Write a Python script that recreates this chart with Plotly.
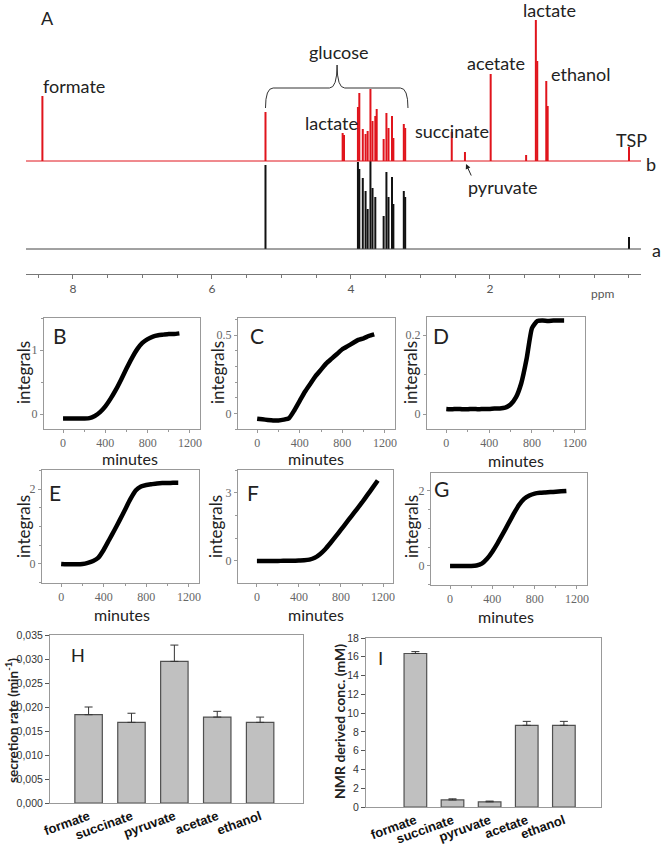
import plotly.graph_objects as go

W, H = 666, 858

# ---------------- Panel A: 1H NMR spectra ----------------
# red trace (b): peak positions (ppm) and heights (arbitrary units)
ppm_b = [8.44, 5.23, 4.12, 4.10, 3.90, 3.88, 3.83, 3.79, 3.76, 3.72, 3.69, 3.65, 3.63,
         3.53, 3.49, 3.46, 3.41, 3.39, 3.24, 3.22, 2.55, 2.36, 1.99, 1.48, 1.34, 1.32,
         1.19, 1.17, 0.00]
height_b = [65, 49, 28, 26, 54, 68, 32, 27, 30, 72, 40, 45, 52, 22, 48, 33, 45, 23, 37, 33,
            29, 9, 87, 6, 141, 100, 80, 55, 14]
# black trace (a)
ppm_a = [5.23, 3.90, 3.88, 3.83, 3.79, 3.76, 3.72, 3.69, 3.65, 3.53, 3.49, 3.46, 3.41,
         3.39, 3.24, 3.22, 0.00]
height_a = [84, 87, 80, 71, 58, 40, 88, 61, 52, 33, 77, 52, 72, 45, 58, 52, 12]
offset_b = 88
ppm_ticks = [8, 6, 4, 2]

spec_labels = ["formate", "glucose", "lactate", "succinate", "acetate", "lactate",
               "ethanol", "TSP", "pyruvate"]
spec_label_ppm = [7.99, 4.17, 4.28, 2.54, 1.91, 1.14, 0.70, -0.04, 1.81]
spec_label_y = [163, 197, 126, 118, 186, 239, 175, 109, 62]

# ---------------- Panels B-G: integrals vs minutes ----------------
minutes = [0, 50, 100, 150, 200, 250, 300, 350, 400, 450, 500, 550, 600, 650, 700, 750,
           800, 850, 900, 950, 1000, 1050, 1100, 1150]
integral_B = [-0.07, -0.07, -0.07, -0.07, -0.07, -0.065, -0.03, 0.03, 0.12, 0.24, 0.38, 0.54,
              0.71, 0.87, 1.01, 1.11, 1.17, 1.21, 1.23, 1.24, 1.25, 1.25, 1.26, None]
integral_C = [-0.034, -0.038, -0.042, -0.045, -0.045, -0.04, -0.03, 0.02, 0.08, 0.14, 0.19, 0.24,
              0.28, 0.32, 0.35, 0.38, 0.41, 0.43, 0.45, 0.47, 0.48, 0.495, 0.505, None]
integral_D = [0.013, 0.012, 0.013, 0.012, 0.012, 0.013, 0.012, 0.013, 0.013, 0.014, 0.014, 0.016,
              0.024, 0.042, 0.078, 0.14, 0.218, 0.236, 0.237, 0.236, 0.237, 0.237, 0.237, None]
integral_E = [0.0, -0.01, -0.01, -0.01, 0.0, 0.03, 0.08, 0.17, 0.38, 0.64, 0.9, 1.17,
              1.45, 1.73, 1.96, 2.07, 2.11, 2.13, 2.15, 2.16, 2.16, 2.17, 2.17, None]
integral_F = [0.0, 0.0, 0.0, 0.0, 0.0, 0.01, 0.01, 0.01, 0.02, 0.03, 0.06, 0.14,
              0.3, 0.52, 0.79, 1.08, 1.38, 1.68, 1.98, 2.28, 2.58, 2.9, 3.22, 3.55]
integral_G = [0.0, 0.0, 0.0, 0.0, 0.0, 0.01, 0.06, 0.19, 0.38, 0.61, 0.86, 1.12,
              1.38, 1.62, 1.79, 1.88, 1.93, 1.95, 1.96, 1.97, 1.98, 1.99, 2.0, None]
minute_ticks = [0, 400, 800, 1200]
ytick_B, ytext_B = [0, 1], ["0", "1"]
ytick_C, ytext_C = [0, 0.5], ["0", "0.5"]
ytick_D, ytext_D = [0, 0.2], ["0", "0.2"]
ytick_E, ytext_E = [0, 2], ["0", "2"]
ytick_F, ytext_F = [0, 3], ["0", "3"]
ytick_G, ytext_G = [0, 2], ["0", "2"]
ytick_minor = [0.5, 0.1, 0.1, 0.5, 1, 0.5]

# ---------------- Panels H & I ----------------
metabolites = ["formate", "succinate", "pyruvate", "acetate", "ethanol"]
secretion_rate = [0.0184, 0.0168, 0.0295, 0.0179, 0.0168]
secretion_err = [0.0016, 0.0019, 0.0034, 0.0012, 0.0011]
conc_mM = [16.35, 0.75, 0.55, 8.7, 8.7]
conc_err = [0.2, 0.12, 0.08, 0.42, 0.42]
rate_ticks = [0, 0.005, 0.010, 0.015, 0.020, 0.025, 0.030, 0.035]
rate_ticktext = ["0,000", "0,005", "0,010", "0,015", "0,020", "0,025", "0,030", "0,035"]
conc_ticks = [0, 2, 4, 6, 8, 10, 12, 14, 16, 18]


def dom_x(left, right):
    return [left / W, right / W]


def dom_y(top, bottom):
    return [1 - bottom / H, 1 - top / H]


fig = go.Figure()


def sticks(ppm, h, base):
    xs, ys = [], []
    for p, v in zip(ppm, h):
        xs += [p, p, None]
        ys += [base, base + v, None]
    return xs, ys


xa, ya = sticks(ppm_a, height_a, 0)
xb, yb = sticks(ppm_b, height_b, offset_b)
fig.add_trace(go.Scatter(x=xa, y=ya, mode="lines", line=dict(color="#111111", width=2),
                         xaxis="x", yaxis="y", hoverinfo="skip"))
fig.add_trace(go.Scatter(x=xb, y=yb, mode="lines", line=dict(color="#e0141c", width=2),
                         xaxis="x", yaxis="y", hoverinfo="skip"))

layout = dict(
    width=W, height=H, margin=dict(l=0, r=0, t=0, b=0, autoexpand=False),
    paper_bgcolor="white", plot_bgcolor="white", showlegend=False,
    font=dict(family="Lato", color="#222222"),
)

layout["xaxis"] = dict(domain=dom_x(26, 641), range=[8.676, -0.173], anchor="y",
                       tickvals=ppm_ticks, ticks="outside", ticklen=4, tickcolor="#777",
                       showline=True, linecolor="#777", linewidth=1, showgrid=False,
                       zeroline=False, tickfont=dict(family="Lato", size=12, color="#555"),
                       minor=dict(dtick=0.5, ticks="outside", ticklen=3, tickcolor="#777"))
layout["yaxis"] = dict(domain=dom_y(0, 274), range=[-25, 249], anchor="x", visible=False,
                       showgrid=False, zeroline=False)

shapes = []
annotations = []


def paper_text(text, px, py, size, family="Lato", angle=0, color="#222"):
    annotations.append(dict(text=text, x=px / W, y=1 - py / H, xref="paper", yref="paper",
                            xanchor="center", yanchor="middle", showarrow=False, textangle=angle,
                            font=dict(family=family, size=size, color=color)))


# baselines of the two spectra
shapes.append(dict(type="line", xref="x domain", yref="y", x0=0, x1=1, y0=0, y1=0,
                   line=dict(color="#444", width=1)))
shapes.append(dict(type="line", xref="x domain", yref="y", x0=0, x1=1, y0=offset_b, y1=offset_b,
                   line=dict(color="#e0141c", width=1)))
# glucose brace
shapes.append(dict(type="path", xref="x", yref="y",
                   path="M 5.23,141 Q 5.23,161 5.12,161 L 4.31,161 Q 4.20,161 4.20,184 "
                        "Q 4.20,161 4.09,161 L 3.29,161 Q 3.18,161 3.18,141",
                   line=dict(color="#333", width=1)))

for t, px, py in zip(spec_labels, spec_label_ppm, spec_label_y):
    annotations.append(dict(text=t, x=px, y=py, xref="x", yref="y", showarrow=False,
                            xanchor="center", yanchor="middle",
                            font=dict(family="Lato", size=18, color="#222")))
annotations.append(dict(text="", x=2.345, y=85, ax=2.26, ay=72, xref="x", yref="y",
                        axref="x", ayref="y", showarrow=True, arrowhead=2, arrowsize=1,
                        arrowwidth=1, arrowcolor="#222"))
paper_text("A", 47, 18, 18)
paper_text("b", 651, 164, 18)
paper_text("a", 656, 250, 18)
paper_text("ppm", 602, 293, 12, color="#555")

# small panels
panels = [
    ("B", integral_B, (44, 200, 318, 429), [-0.234, 1.5], ytick_B, ytext_B, (60, 335), (23, 373), (130, 458)),
    ("C", integral_C, (238, 395, 318, 429), [-0.10, 0.61], ytick_C, ytext_C, (257, 335), (217, 373), (316, 458)),
    ("D", integral_D, (427, 585, 317, 429), [-0.038, 0.246], ytick_D, ytext_D, (441, 335), (410, 373), (516, 460)),
    ("E", integral_E, (42, 199, 470, 583), [-0.51, 2.51], ytick_E, ytext_E, (55, 492), (23, 527), (122, 614)),
    ("F", integral_F, (238, 393, 470, 583), [-0.97, 4.01], ytick_F, ytext_F, (253, 492), (215, 527), (316, 614)),
    ("G", integral_G, (431, 587, 473, 585), [-0.51, 2.48], ytick_G, ytext_G, (441, 489), (411, 527), (506, 616)),
]
tick_font = dict(family="Liberation Serif", size=12, color="#666")
for i, (lab, vals, box, yr, yt, ytt, lpos, ylpos, xlpos) in enumerate(panels):
    n = i + 2
    xk, yk = "xaxis%d" % n, "yaxis%d" % n
    l, r, t, b = box
    layout[xk] = dict(domain=dom_x(l, r), range=[-180, 1295], anchor="y%d" % n,
                      tickvals=minute_ticks, ticks="outside", ticklen=3, tickcolor="#999",
                      showline=True, mirror=True, linecolor="#999", linewidth=1,
                      showgrid=False, zeroline=False, tickfont=tick_font,
                      minor=dict(dtick=200, ticks="outside", ticklen=2, tickcolor="#999"))
    layout[yk] = dict(domain=dom_y(t, b), range=yr, anchor="x%d" % n,
                      tickvals=yt, ticktext=ytt, ticks="outside", ticklen=3, tickcolor="#999",
                      showline=True, mirror=True, linecolor="#999", linewidth=1,
                      showgrid=False, zeroline=False, tickfont=tick_font,
                      minor=dict(dtick=ytick_minor[i], ticks="outside", ticklen=2, tickcolor="#999"))
    fig.add_trace(go.Scatter(x=minutes, y=vals, mode="lines", xaxis="x%d" % n, yaxis="y%d" % n,
                             line=dict(color="black", width=4.5, shape="spline", smoothing=0.5),
                             hoverinfo="skip"))
    paper_text(lab, lpos[0], lpos[1], 21)
    paper_text("integrals", ylpos[0], ylpos[1], 17, angle=-90)
    paper_text("minutes", xlpos[0], xlpos[1], 16)

# Panel H & I
bar_style = dict(color="#c0c0c0", line=dict(color="#505050", width=1.2))
fig.add_trace(go.Bar(x=metabolites, y=secretion_rate, width=0.64, marker=bar_style,
                     error_y=dict(type="data", symmetric=False, array=secretion_err,
                                  arrayminus=[0] * len(secretion_err), color="#333",
                                  thickness=1, width=4),
                     xaxis="x8", yaxis="y8", hoverinfo="skip"))
fig.add_trace(go.Bar(x=metabolites, y=conc_mM, width=0.61, marker=bar_style,
                     error_y=dict(type="data", symmetric=False, array=conc_err,
                                  arrayminus=[0] * len(conc_err), color="#333",
                                  thickness=1, width=4),
                     xaxis="x9", yaxis="y9", hoverinfo="skip"))
cat_font = dict(family="Liberation Sans", size=13, color="#111", weight="bold")
num_font = dict(family="Liberation Sans", size=10.5, color="#333")
layout["xaxis8"] = dict(domain=dom_x(50, 303), range=[-0.9, 5.0], anchor="y8", type="category",
                        tickangle=-20, tickfont=cat_font, ticks="", showline=True, mirror=True,
                        linecolor="#999", linewidth=1, showgrid=False, zeroline=False)
layout["yaxis8"] = dict(domain=dom_y(635, 803), range=[0, 0.035], anchor="x8",
                        tickvals=rate_ticks, ticktext=rate_ticktext, ticks="outside", ticklen=4,
                        tickcolor="#555", tickfont=num_font, showline=True, mirror=True,
                        linecolor="#999", linewidth=1, showgrid=False, zeroline=False)
layout["xaxis9"] = dict(domain=dom_x(366, 601), range=[-1.33, 5.0], anchor="y9", type="category",
                        tickangle=-20, tickfont=cat_font, ticks="", showline=True, mirror=True,
                        linecolor="#999", linewidth=1, showgrid=False, zeroline=False)
layout["yaxis9"] = dict(domain=dom_y(638, 807), range=[0, 18], anchor="x9",
                        tickvals=conc_ticks, ticks="outside", ticklen=4,
                        tickcolor="#555", tickfont=num_font, showline=True, mirror=True,
                        linecolor="#999", linewidth=1, showgrid=False, zeroline=False)
paper_text("H", 78, 655, 19, family="Liberation Sans")
paper_text("I", 380, 658, 19, family="Liberation Sans")
paper_text("<b>secretion rate (min<sup>-1</sup>)</b>", 12, 721, 13.5, angle=-90)
paper_text("<b>NMR derived conc. (mM)</b>", 339, 722, 14, angle=-90)

layout["shapes"] = shapes
layout["annotations"] = annotations
fig.update_layout(**layout)
fig.write_html("out.html")
